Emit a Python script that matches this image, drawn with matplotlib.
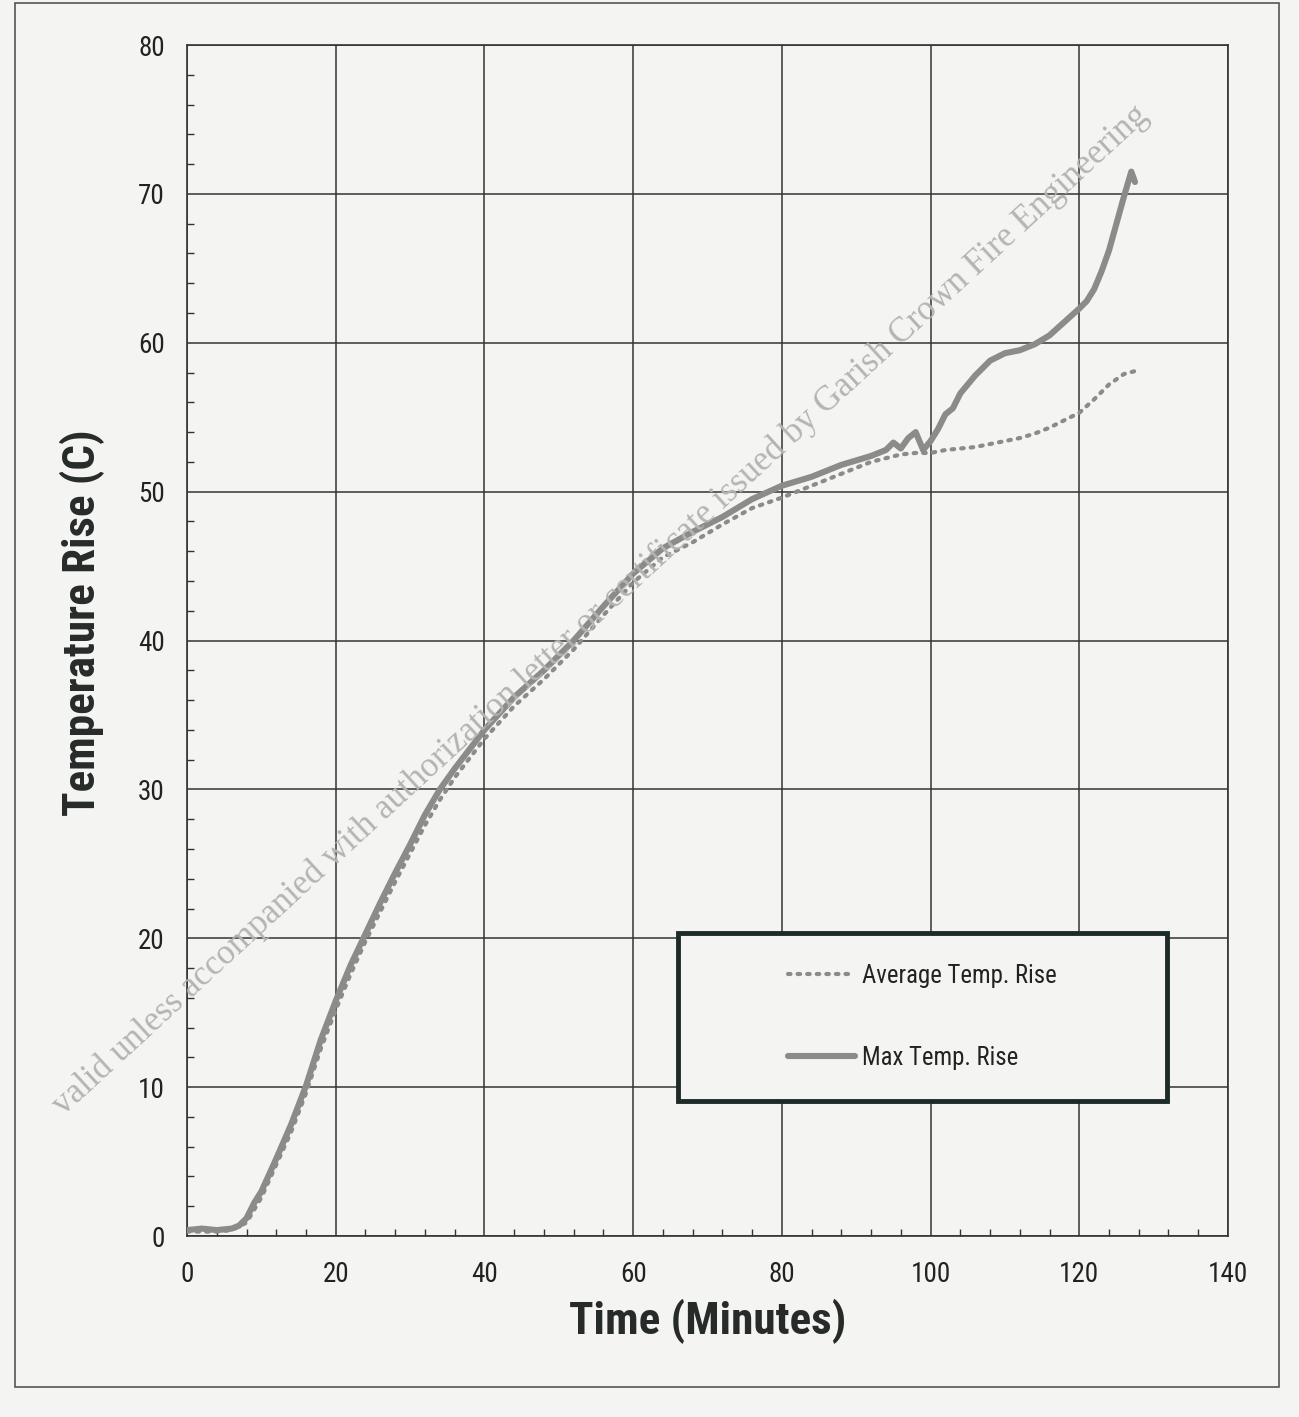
import matplotlib
matplotlib.use("Agg")
import matplotlib.pyplot as plt
from matplotlib import font_manager as fm
from matplotlib.patches import Rectangle
from matplotlib.ticker import MultipleLocator

# ---- data ----
time_max = [0, 2, 4, 6, 7, 8, 9, 10, 12, 14, 16, 18, 20, 22, 24, 26, 28, 30, 32, 34, 36,
            40, 44, 48, 52, 56, 60, 64, 68, 72, 76, 80, 84, 88, 92, 94, 95, 96, 97, 98, 99,
            100, 101, 102, 103, 104, 106, 108, 110, 112, 114, 116, 118, 120, 121, 122, 123,
            124, 125, 126, 127, 127.5]
max_rise = [0.4, 0.5, 0.4, 0.5, 0.7, 1.2, 2.2, 3.0, 5.2, 7.5, 10.1, 13.2, 15.8, 18.2, 20.3,
            22.4, 24.4, 26.3, 28.3, 30.0, 31.4, 34.0, 36.2, 38.0, 40.0, 42.3, 44.5, 46.2,
            47.3, 48.3, 49.5, 50.4, 51.0, 51.8, 52.4, 52.8, 53.3, 52.9, 53.6, 54.0, 52.8,
            53.4, 54.2, 55.2, 55.6, 56.6, 57.8, 58.8, 59.3, 59.5, 59.9, 60.5, 61.4, 62.3,
            62.8, 63.6, 64.8, 66.2, 68.0, 69.8, 71.5, 70.8]

time_avg = [0, 2, 4, 6, 8, 10, 12, 14, 16, 18, 20, 22, 24, 26, 28, 30, 32, 34, 36, 40, 44,
            48, 52, 56, 60, 64, 68, 72, 76, 80, 84, 88, 92, 96, 98, 100, 102, 104, 106, 108,
            110, 112, 114, 116, 118, 120, 122, 124, 126, 127.5]
avg_rise = [0.3, 0.3, 0.3, 0.4, 0.9, 2.6, 4.8, 7.0, 9.6, 12.6, 15.2, 17.6, 19.8, 21.8, 23.8,
            25.7, 27.6, 29.3, 30.8, 33.4, 35.6, 37.4, 39.4, 41.7, 43.9, 45.6, 46.6, 47.8,
            48.9, 49.6, 50.4, 51.2, 52.0, 52.5, 52.6, 52.6, 52.8, 52.9, 53.0, 53.2, 53.4,
            53.6, 53.9, 54.3, 54.8, 55.3, 56.2, 57.2, 57.9, 58.1]

x_ticks = [0, 20, 40, 60, 80, 100, 120, 140]
y_ticks = [0, 10, 20, 30, 40, 50, 60, 70, 80]
series_labels = ["Average Temp. Rise", "Max Temp. Rise"]
x_label = "Time (Minutes)"
y_label = "Temperature Rise (C)"
watermark = ("valid unless accompanied with authorization letter or certificate "
             "issued by Garish Crown Fire Engineering")

# ---- pick a condensed sans font if one is installed ----
def find_condensed():
    names = {f.name for f in fm.fontManager.ttflist}
    for pref in ["Liberation Sans Narrow", "Roboto Condensed", "Open Sans Condensed",
                 "Noto Sans Condensed", "DejaVu Sans Condensed", "Arial Narrow"]:
        if pref in names:
            return pref
    for n in sorted(names):
        if ("Narrow" in n or "Condensed" in n) and "Serif" not in n and "Mono" not in n:
            return n
    return None

cond = find_condensed()
if cond:
    fam = [cond, "DejaVu Sans"]
    k = 1.0
else:
    fam = ["Liberation Sans", "DejaVu Sans"]
    k = 0.82
plt.rcParams["font.family"] = fam

bg = "#f4f4f2"
curve_col = "#8a8c8a"
dark = "#262b2a"

fig = plt.figure(figsize=(12.99, 14.17), dpi=100, facecolor=bg)
ax = fig.add_axes([0.144, 0.1277, 0.8013, 0.8405], facecolor=bg)

# outer frame around the figure
fig.patches.append(Rectangle((0.01155, 0.0212), 0.973, 0.9767, transform=fig.transFigure,
                             fill=False, edgecolor="#555555", lw=1.2, zorder=0))

# curves
ax.plot(time_max, max_rise, color=curve_col, lw=4.4, solid_capstyle="round",
        solid_joinstyle="round", label=series_labels[1], zorder=3)
ax.plot(time_avg, avg_rise, color=curve_col, lw=3.0, linestyle=(0, (0.6, 1.7)),
        dash_capstyle="round", label=series_labels[0], zorder=4)

ax.set_xlim(0, 140)
ax.set_ylim(0, 80)
ax.set_xticks(x_ticks)
ax.set_yticks(y_ticks)
ax.xaxis.set_minor_locator(MultipleLocator(4))
ax.yaxis.set_minor_locator(MultipleLocator(2))
ax.tick_params(which="major", length=0, labelsize=19.5 * k, colors="#222222")
ax.tick_params(axis="x", which="major", pad=18)
ax.tick_params(axis="y", which="major", pad=16)
ax.tick_params(which="minor", direction="in", length=5, width=1, color="#333333")
ax.grid(True, which="major", color="#333333", lw=1.1)
ax.set_axisbelow(True)
for s in ax.spines.values():
    s.set_color("#333333")
    s.set_linewidth(1.2)

ax.set_xlabel(x_label, fontsize=32.6 * k, fontweight="bold", color=dark, labelpad=8)
ax.set_ylabel(y_label, fontsize=32.5 * k, fontweight="bold", color=dark)
ax.yaxis.set_label_coords(-0.079, 0.5147)

# legend box
ax.add_patch(Rectangle((0.4717, 0.1134), 0.4697, 0.141, transform=ax.transAxes,
                       facecolor=bg, edgecolor="#1e2a27", lw=3.5, zorder=6))
h, l = ax.get_legend_handles_labels()
leg = ax.legend([h[1], h[0]], [l[1], l[0]], loc="center",
                bbox_to_anchor=(0.4717 + 0.4697 / 2, 0.1134 + 0.141 / 2),
                frameon=False, fontsize=17.8 * k, handlelength=2.7 / k, handletextpad=0.3,
                labelspacing=2.35 / k)
leg.set_zorder(7)
for t in leg.get_texts():
    t.set_color("#222222")

# watermark
fig.text(0.462, 0.5695, watermark, rotation=42.6, rotation_mode="anchor", ha="center",
         va="center", fontsize=25, family=["Liberation Serif", "DejaVu Serif"],
         color="#b4b4b4", zorder=10)

fig.savefig("out.png", dpi=100, facecolor=bg)
